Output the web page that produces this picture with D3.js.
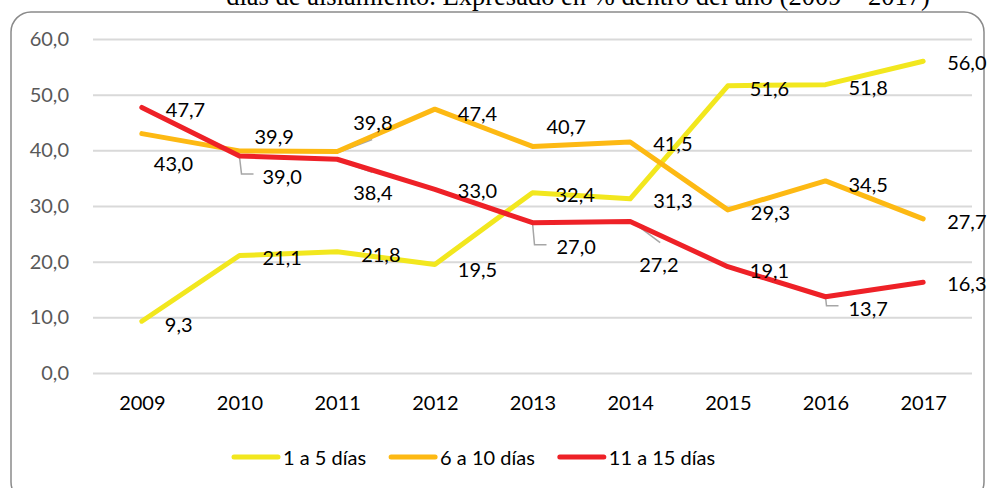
<!DOCTYPE html>
<html>
<head>
<meta charset="utf-8">
<script src="https://cdn.jsdelivr.net/npm/d3@7"></script>
<style>
  html, body { margin: 0; padding: 0; background: #fff; overflow: hidden; }
  svg { display: block; }
  text { font-family: Lato, "Open Sans", sans-serif; }
</style>
</head>
<body>
<svg id="chart" width="989" height="488"></svg>
<script>
// datos
const years = ["2009", "2010", "2011", "2012", "2013", "2014", "2015", "2016", "2017"];
const seriesNames = ["1 a 5 días", "6 a 10 días", "11 a 15 días"];
const dias1a5 = [9.3, 21.1, 21.8, 19.5, 32.4, 31.3, 51.6, 51.8, 56.0];
const dias6a10 = [43.0, 39.9, 39.8, 47.4, 40.7, 41.5, 29.3, 34.5, 27.7];
const dias11a15 = [47.7, 39.0, 38.4, 33.0, 27.0, 27.2, 19.1, 13.7, 16.3];
const yTicks = [0, 10, 20, 30, 40, 50, 60];
const colors = ["#f2e71e", "#fdb913", "#ee2127"];

// desplazamiento de etiquetas [dx, dy] respecto al punto (borde izquierdo del texto)
const labelShift = [
    [[23, 3], [23, 1], [24, 2], [23, 5], [23, 1], [23, 1], [22, 2], [23, 2], [24, 1]],
    [[12, 29], [15, -15], [16, -29], [23, 4], [14, -20], [23, 1], [23, 2], [23, 3], [24, 2]],
    [[24, 2], [23, 20], [16, 33], [23, 1], [24, 23], [9, 42], [22, 3], [23, 11], [24, 1]]
];
// líneas guía [serie, índice, puntos relativos]
const leaders = [
    [1, 2, [[1, 1], [35, -12]]],
    [2, 1, [[0, 1], [2, 18], [14, 18]]],
    [2, 2, [[1, 1], [35, 13]]],
    [2, 4, [[0, 0], [2, 22], [14, 22]]],
    [2, 5, [[2, 0], [30, 21]]],
    [2, 7, [[0, 0], [1, 9], [13, 9]]]
];

const series = [dias1a5, dias6a10, dias11a15];
const fmt = d => d.toFixed(1).replace(".", ",");

const svg = d3.select("#chart");

// título (cortado arriba, como en el original)
svg.append("text")
    .attr("x", 578)
    .attr("y", 5)
    .attr("text-anchor", "middle")
    .style("font-family", "'Liberation Serif', 'DejaVu Serif', serif")
    .style("font-size", "26.5px")
    .attr("fill", "#000")
    .text("días de aislamiento. Expresado en % dentro del año (2009 – 2017)");

// marco
svg.append("rect")
    .attr("x", 11).attr("y", 12)
    .attr("width", 973).attr("height", 490)
    .attr("rx", 20).attr("ry", 20)
    .attr("fill", "none")
    .attr("stroke", "#8a8a8a")
    .attr("stroke-width", 1.5);

const x = d3.scalePoint().domain(years).range([93, 972]).padding(0.5);
const y = d3.scaleLinear().domain([0, 60]).range([373, 39]);

// rejilla + eje Y
const yAxis = svg.append("g")
    .attr("transform", "translate(93,0)")
    .call(d3.axisLeft(y).tickValues(yTicks).tickFormat(fmt).tickSize(-879).tickPadding(24));
yAxis.select(".domain").remove();
yAxis.selectAll("line").attr("stroke", "#d9d9d9").attr("stroke-width", 2);
yAxis.selectAll("text")
    .attr("fill", "#595959")
    .style("font-size", "20px")
    .style("font-family", "Lato, sans-serif");

// eje X
const xAxis = svg.append("g")
    .attr("transform", "translate(0,373)")
    .call(d3.axisBottom(x).tickSize(0).tickPadding(23));
xAxis.select(".domain").remove();
xAxis.selectAll("text")
    .attr("fill", "#000")
    .style("font-size", "20px")
    .style("font-family", "Lato, sans-serif");

// líneas guía
const guide = d3.line();
svg.append("g").selectAll("path")
    .data(leaders)
    .enter().append("path")
    .attr("d", d => {
        const px = x(years[d[1]]), py = y(series[d[0]][d[1]]);
        return guide(d[2].map(p => [px + p[0], py + p[1]]));
    })
    .attr("fill", "none")
    .attr("stroke", "#a6a6a6")
    .attr("stroke-width", 1.5);

// series
const line = d3.line()
    .x((d, i) => x(years[i]))
    .y(d => y(d));

svg.append("g").selectAll("path")
    .data(series)
    .enter().append("path")
    .attr("d", d => line(d))
    .attr("fill", "none")
    .attr("stroke", (d, i) => colors[i])
    .attr("stroke-width", 5)
    .attr("stroke-linejoin", "round")
    .attr("stroke-linecap", "round");

// etiquetas de datos
series.forEach((vals, s) => {
    svg.append("g").selectAll("text")
        .data(vals)
        .enter().append("text")
        .attr("x", (d, i) => x(years[i]) + labelShift[s][i][0])
        .attr("y", (d, i) => y(d) + labelShift[s][i][1])
        .attr("dominant-baseline", "central")
        .attr("fill", "#000")
        .style("font-size", "20px")
        .text(fmt);
});

// leyenda
const legend = svg.append("g").attr("transform", "translate(0,457)");
let lx = 232;
seriesNames.forEach((name, i) => {
    legend.append("line")
        .attr("x1", lx + 2).attr("x2", lx + 46)
        .attr("y1", 0).attr("y2", 0)
        .attr("stroke", colors[i])
        .attr("stroke-width", 5)
        .attr("stroke-linecap", "round");
    const t = legend.append("text")
        .attr("x", lx + 51)
        .attr("y", 0)
        .attr("dominant-baseline", "central")
        .attr("fill", "#000")
        .style("font-size", "20px")
        .text(name);
    lx += 51 + t.node().getComputedTextLength() + 23;
});
</script>
</body>
</html>
